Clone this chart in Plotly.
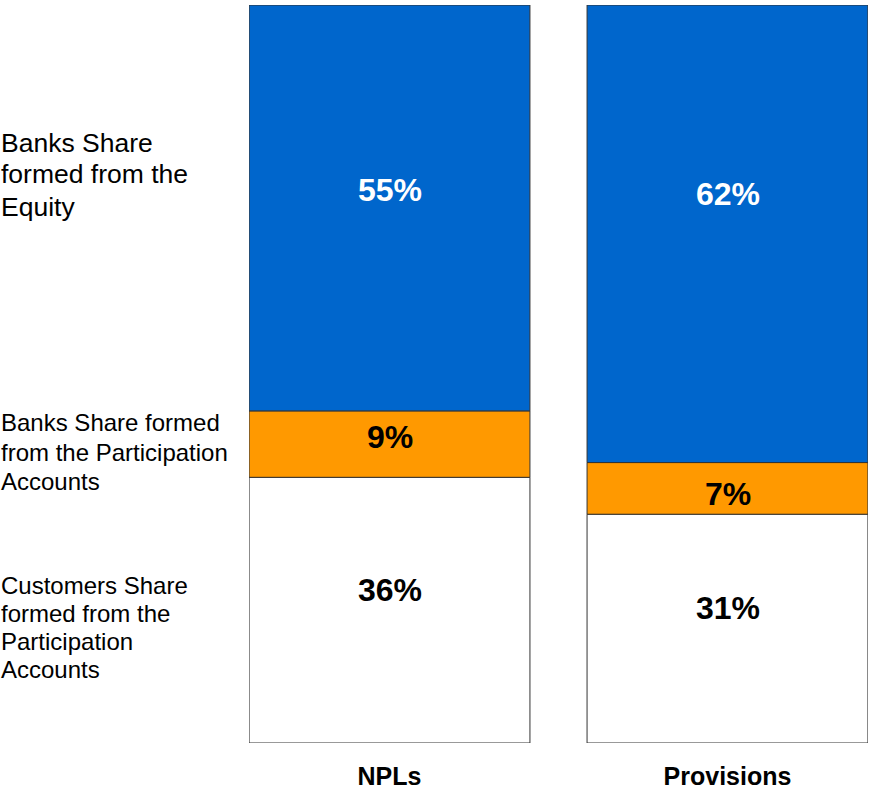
import plotly.graph_objects as go

# Stacked shares (%), bottom to top
categories = ["NPLs", "Provisions"]
customers_share = [36, 31]
banks_participation_share = [9, 7]
banks_equity_share = [55, 62]

series_names = [
    "Customers Share formed from the Participation Accounts",
    "Banks Share formed from the Participation Accounts",
    "Banks Share formed from the Equity",
]
series_values = [customers_share, banks_participation_share, banks_equity_share]
series_colors = ["#FFFFFF", "#FF9900", "#0066CC"]
label_colors = ["#000000", "#000000", "#FFFFFF"]

# left-hand descriptions, one entry per line: (text, y in paper units, font size)
side_labels = [
    ("Banks Share", 0.813, 26.5),
    ("formed from the", 0.771, 26.5),
    ("Equity", 0.726, 26.5),
    ("Banks Share formed", 0.434, 24),
    ("from the Participation", 0.394, 24),
    ("Accounts", 0.355, 24),
    ("Customers Share", 0.214, 24),
    ("formed from the", 0.176, 24),
    ("Participation", 0.137, 24),
    ("Accounts", 0.099, 24),
]

# vertical nudge (px) of each value label relative to its segment centre
label_shift = [[20, 21], [7, -6], [18, 40]]

FONT = "Liberation Sans, Arial, sans-serif"
x_pos = list(range(len(categories)))

fig = go.Figure()
bases = [0] * len(categories)
annotations = []
for name, vals, color, lcolor, shifts in zip(
    series_names, series_values, series_colors, label_colors, label_shift
):
    fig.add_trace(
        go.Bar(
            x=x_pos,
            y=vals,
            base=bases,
            name=name,
            width=0.831,
            marker=dict(color=color, line=dict(color="#333333", width=1)),
            hoverinfo="name+y",
        )
    )
    for i, v in enumerate(vals):
        annotations.append(
            dict(
                x=x_pos[i],
                y=bases[i] + v / 2,
                xref="x",
                yref="y",
                text=f"<b>{v}%</b>",
                showarrow=False,
                yshift=shifts[i],
                font=dict(family=FONT, size=32, color=lcolor),
            )
        )
    bases = [b + v for b, v in zip(bases, vals)]

for text, y, size in side_labels:
    annotations.append(
        dict(
            x=-0.404,
            y=y,
            xref="paper",
            yref="paper",
            xanchor="left",
            yanchor="middle",
            text=text,
            showarrow=False,
            font=dict(family=FONT, size=size, color="#000000"),
        )
    )

fig.update_layout(
    width=875,
    height=792,
    margin=dict(l=249, r=7, t=5, b=49),
    paper_bgcolor="white",
    plot_bgcolor="white",
    barmode="overlay",
    showlegend=False,
    annotations=annotations,
    xaxis=dict(
        range=[-0.4157, 1.4157],
        tickvals=x_pos,
        ticktext=[f"<b>{c}</b>" for c in categories],
        tickfont=dict(family=FONT, size=25, color="#000000"),
        ticks="outside",
        ticklen=11,
        tickcolor="rgba(0,0,0,0)",
        automargin=False,
        showgrid=False,
        zeroline=False,
        showline=False,
    ),
    yaxis=dict(
        range=[0, 100],
        visible=False,
        showgrid=False,
        zeroline=False,
        automargin=False,
    ),
)

fig.write_html("out.html")
